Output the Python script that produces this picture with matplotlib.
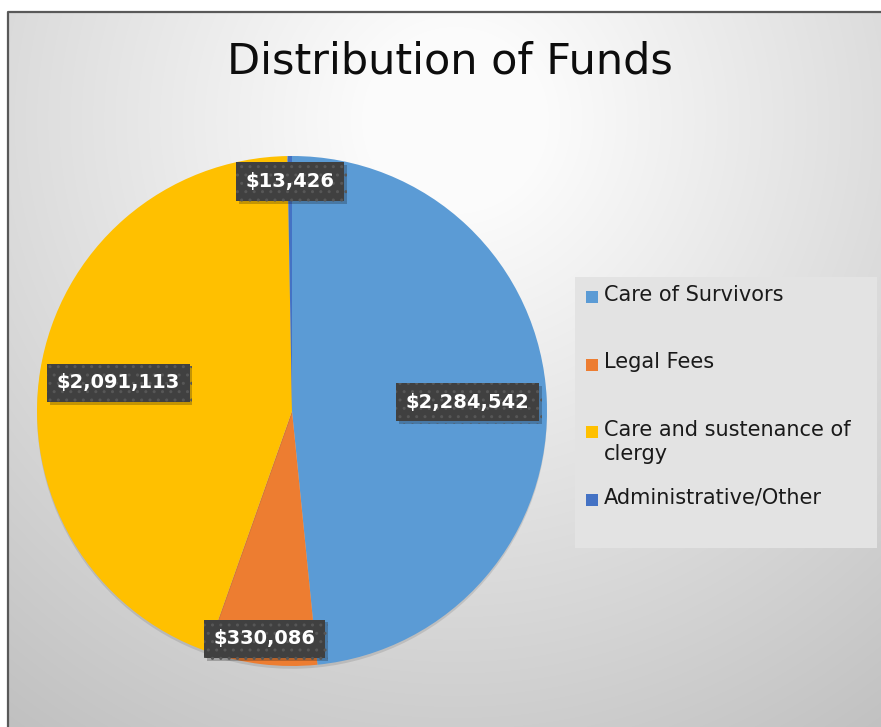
import numpy as np
import matplotlib.pyplot as plt
from matplotlib.patches import Rectangle
import matplotlib.patheffects as pe

# ── Data ──────────────────────────────────────────────────────────────────────
categories = ['Care of Survivors', 'Legal Fees',
              'Care and sustenance of\nclergy', 'Administrative/Other']
amounts = [2284542, 330086, 2091113, 13426]
colors = ['#5B9BD5', '#ED7D31', '#FFC000', '#4472C4']

W, H = 881, 727
plt.rcParams['font.family'] = ['DejaVu Sans']

fig = plt.figure(figsize=(W / 100, H / 100), dpi=100)
fig.patch.set_facecolor('white')

# ── Background: radial grey gradient inside chart border ─────────────────────
bg = fig.add_axes([0, 0, 1, 1], zorder=0)
yy, xx = np.mgrid[0:H, 0:W]
d = np.hypot(xx - 455, yy - 120)
shade = np.clip(1.017 - 0.00035 * d, 0.70, 0.985)
img = np.dstack([shade, shade, shade])
img[:12, :, :] = 1.0
img[:, :8, :] = 1.0
bg.imshow(img, extent=[0, W, H, 0], aspect='auto', interpolation='bilinear')
bg.plot([8, 8, W + 5], [H + 5, 12, 12], color='#595959', lw=1.6)
bg.set_xlim(0, W)
bg.set_ylim(H, 0)
bg.axis('off')

# title
fig.text(450 / W, 1 - 61 / H, 'Distribution of Funds', ha='center', va='center',
         fontsize=31, color='#0d0d0d')

# ── Pie ───────────────────────────────────────────────────────────────────────
cx, cy, r = 292, 411, 255
ax = fig.add_axes([(cx - r) / W, (H - cy - r) / H, 2 * r / W, 2 * r / H], zorder=2)
wedges, _ = ax.pie(amounts, colors=colors, startangle=90, counterclock=False,
                   radius=1.0, wedgeprops={'linewidth': 0})
for w in wedges:
    w.set_path_effects([pe.SimplePatchShadow(offset=(0, -2), alpha=0.18,
                                             shadow_rgbFace='#555555'),
                        pe.Normal()])
ax.set_xlim(-1, 1)
ax.set_ylim(-1, 1)
ax.set_aspect('equal')
ax.axis('off')

label_dist = [0.69, 0.90, 0.69, 0.90]
for w, val, dist in zip(wedges, amounts, label_dist):
    ang = np.deg2rad((w.theta1 + w.theta2) / 2)
    t = ax.text(dist * np.cos(ang), dist * np.sin(ang), f'${val:,}',
                ha='center', va='center', color='white', fontsize=14,
                fontweight='bold', zorder=5,
                bbox=dict(boxstyle='square,pad=0.5', facecolor='#404040',
                          edgecolor='#575757', linewidth=0, hatch='..'))
    t.get_bbox_patch().set_path_effects([
        pe.SimplePatchShadow(offset=(2, -2), alpha=0.25), pe.Normal()])

# ── Legend (Excel style, evenly spaced entries) ──────────────────────────────
lx0, ly0, lx1, ly1 = 575, 277, 877, 548
bg.add_patch(Rectangle((lx0, ly0), lx1 - lx0, ly1 - ly0, facecolor='#e3e3e3',
                       edgecolor='none', zorder=3))
for i, (name, col) in enumerate(zip(categories, colors)):
    ytop = 288 + i * 67.5
    bg.add_patch(Rectangle((586, ytop + 3), 12, 12, facecolor=col,
                           edgecolor='none', zorder=4))
    bg.text(604, ytop - 3, name, ha='left', va='top', fontsize=15,
            color='#1a1a1a', linespacing=1.25, zorder=4)

fig.savefig('out.png', dpi=100)
